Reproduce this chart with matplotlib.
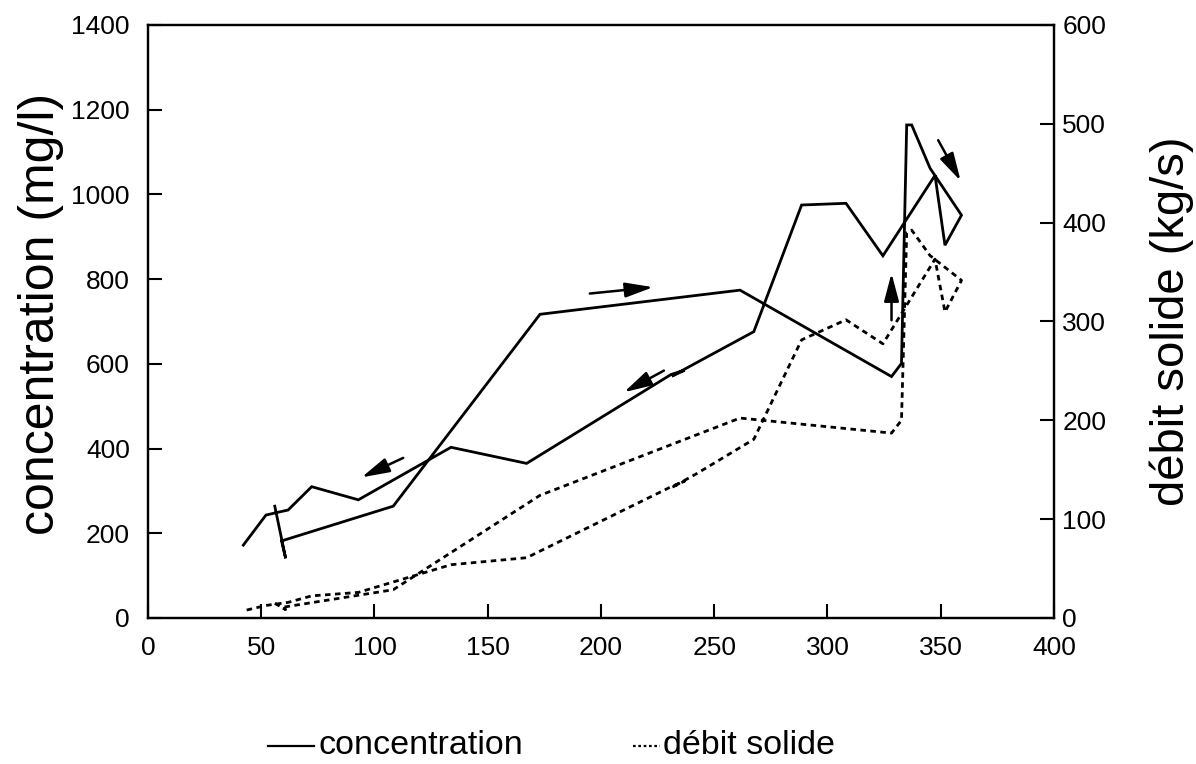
import matplotlib
matplotlib.use("Agg")
import matplotlib.pyplot as plt
from matplotlib.lines import Line2D

plt.rcParams['font.family'] = ['Liberation Sans', 'DejaVu Sans']

# Event hydrograph loop: discharge (m3/s) vs concentration (mg/l) and solid flux (kg/s)
discharge = [56.0, 60.8, 59.0, 108.3, 173.1, 261.4, 328.3, 332.7, 335.0, 337.2,
             345.3, 359.2, 351.9, 347.5, 324.5, 308.2, 288.6, 267.5, 242.3,
             231.3, 237.0, 231.0, 167.2, 133.8, 92.9, 72.3, 61.9, 52.1, 42.1]
concentration = [264, 141, 182, 264, 717, 774, 570, 601, 1164, 1164,
                 1062, 951, 880, 1045, 855, 979, 975, 676, 603,
                 571, 585, 575, 365, 403, 279, 310, 255, 243, 172]
solid_flux = [14.8, 8.6, 10.7, 28.6, 124.1, 202.3, 187.1, 200.0, 390.0, 392.5,
              366.7, 341.6, 309.7, 363.1, 277.4, 301.7, 281.4, 180.8, 146.1,
              132.1, 138.6, 132.8, 61.0, 53.9, 25.9, 22.4, 15.8, 12.7, 7.2]

# Direction arrows along the loop (tail -> head), concentration axis units
arrow_tails = [(112.7, 378), (227.8, 584), (195.1, 766), (328.3, 703), (348.9, 1128)]
arrow_heads = [(94.3, 332), (210.2, 533), (223.1, 781), (328.3, 814), (358.8, 1032)]

x_ticks = list(range(0, 401, 50))
conc_ticks = list(range(0, 1401, 200))
flux_ticks = list(range(0, 601, 100))

fig = plt.figure(figsize=(11.96, 7.64), dpi=100)
ax = fig.add_axes([0.1237, 0.1911, 0.7575, 0.7762])
ax2 = ax.twinx()

ax.plot(discharge, concentration, color='black', lw=2.0, solid_joinstyle='miter')
ax2.plot(discharge, solid_flux, color='black', lw=2.0, linestyle=(0, (2.0, 1.6)))

for tail, head in zip(arrow_tails, arrow_heads):
    ax.annotate('', xy=head, xytext=tail,
                arrowprops=dict(arrowstyle='-|>,head_length=1.7,head_width=0.45',
                                color='black', lw=1.8, shrinkA=0, shrinkB=0))

ax.set_xlim(0, 400)
ax.set_ylim(0, 1400)
ax2.set_ylim(0, 600)
ax.set_xticks(x_ticks)
ax.set_yticks(conc_ticks)
ax2.set_yticks(flux_ticks)

ax.tick_params(axis='both', direction='in', length=10, width=1.5, labelsize=19, pad=13)
ax2.tick_params(axis='y', direction='in', length=10, width=1.5, labelsize=19, pad=6)
for a in (ax, ax2):
    for s in a.spines.values():
        s.set_linewidth(1.6)

ax.set_ylabel('concentration (mg/l)', fontsize=36)
ax.yaxis.set_label_coords(-0.093, 0.513)
ax2.set_ylabel('débit solide (kg/s)', fontsize=34)
ax2.yaxis.set_label_coords(1.106, 0.50)

# Legend drawn below the axes: a solid stroke and a dotted stroke, each with its label
legend_y = 1 - 746 / 764
fig.add_artist(Line2D([268 / 1196, 314 / 1196], [legend_y, legend_y],
                      color='black', lw=1.6, transform=fig.transFigure))
fig.text(318 / 1196, legend_y, 'concentration', fontsize=24.5, va='center', ha='left')
fig.add_artist(Line2D([633 / 1196, 660 / 1196], [legend_y, legend_y],
                      color='black', lw=1.6, linestyle=(0, (1.2, 1.2)),
                      transform=fig.transFigure))
fig.text(663 / 1196, legend_y, 'débit solide', fontsize=24.5, va='center', ha='left')

fig.savefig('out.png', dpi=100)
